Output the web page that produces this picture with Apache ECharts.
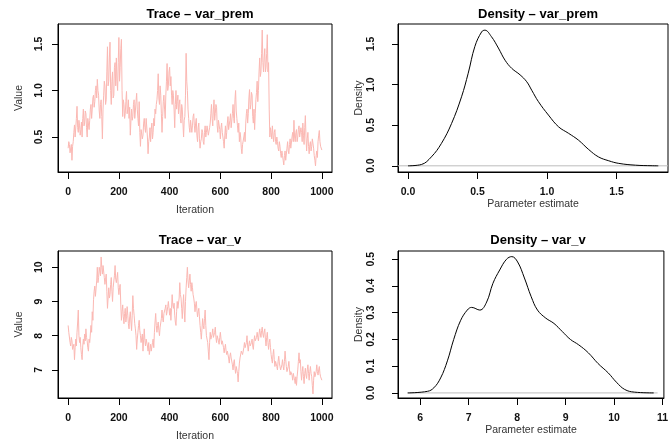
<!DOCTYPE html>
<html>
<head>
<meta charset="utf-8">
<script src="https://cdn.jsdelivr.net/npm/echarts@6/dist/echarts.min.js"></script>
<style>
  html, body { margin: 0; padding: 0; background: #fff; }
  #main { width: 671px; height: 448px; }
</style>
</head>
<body>
<div id="main"></div>
<script>
// trace values read at every 5 iterations (0..1000)
const traceStep = 5;
const varPremTrace = [
  0.38, 0.42, 0.35, 0.25, 0.45, 0.63, 0.48, 0.83, 0.55, 0.62,
  0.58, 0.50, 0.80, 0.65, 0.75, 0.50, 0.72, 0.68, 0.85, 0.80,
  0.95, 0.88, 1.05, 1.12, 0.95, 0.70, 0.90, 0.48, 0.95, 1.05,
  0.90, 1.47, 1.10, 1.52, 0.85, 1.20, 0.95, 1.30, 1.35, 1.00,
  1.57, 1.25, 1.55, 0.72, 0.85, 0.75, 0.99, 0.80, 0.70, 0.52,
  0.80, 0.72, 0.90, 0.78, 0.97, 0.70, 0.88, 0.40, 0.60, 0.52,
  0.70, 0.55, 0.68, 0.32, 0.50, 0.45, 0.65, 0.55, 0.62, 0.75,
  0.90, 1.18, 0.85, 0.95, 0.55, 0.88, 0.80, 0.95, 1.29, 1.05,
  1.25, 1.15, 0.85, 0.95, 0.60, 1.00, 0.88, 0.75, 0.90, 0.65,
  0.80, 0.50, 0.72, 1.40, 1.00, 0.70, 0.55, 0.70, 0.62, 0.75,
  0.55, 0.70, 0.45, 0.65, 0.38, 0.48, 0.55, 0.42, 0.62, 0.55,
  0.60, 0.50, 0.65, 0.85, 0.62, 0.90, 0.75, 0.82, 0.55, 0.70,
  0.48, 0.65, 0.50, 0.38, 0.62, 0.55, 0.72, 0.60, 0.75, 0.62,
  0.85, 0.65, 1.00, 0.70, 0.55, 0.45, 0.50, 0.32, 0.40, 0.55,
  0.65, 0.80, 0.75, 1.01, 0.85, 0.95, 0.65, 0.58, 0.90, 1.10,
  1.00, 1.35, 1.20, 1.65, 1.20, 1.45, 1.25, 1.60, 1.30, 0.50,
  0.55, 0.62, 0.45, 0.58, 0.42, 0.45, 0.35, 0.40, 0.28, 0.30,
  0.20, 0.35, 0.25, 0.45, 0.32, 0.48, 0.40, 0.55, 0.68, 0.45,
  0.58, 0.50, 0.62, 0.48, 0.55, 0.65, 0.42, 0.73, 0.35, 0.55,
  0.32, 0.45, 0.40, 0.50, 0.30, 0.19, 0.35, 0.45, 0.57, 0.40,
  0.36
];
// values in between (iterations 2.5, 7.5, ...)
const varPremMid = [
  0.45, 0.33, 0.42, 0.40, 0.55, 0.50, 0.70, 0.60, 0.68, 0.52,
  0.66, 0.70, 0.62, 0.78, 0.60, 0.70, 0.58, 0.80, 0.70, 0.92,
  0.82, 1.00, 0.92, 1.00, 0.78, 0.85, 0.72, 0.80, 1.10, 0.85,
  1.20, 1.05, 1.35, 1.00, 1.10, 0.92, 1.25, 1.05, 1.10, 1.30,
  1.10, 1.45, 1.00, 0.90, 0.70, 0.88, 0.75, 0.90, 0.82, 0.68,
  0.68, 0.85, 0.70, 0.88, 0.80, 0.62, 0.55, 0.58, 0.48, 0.65,
  0.60, 0.70, 0.50, 0.45, 0.60, 0.58, 0.48, 0.70, 0.80, 0.85,
  1.00, 0.92, 1.05, 0.75, 0.72, 0.95, 0.70, 1.10, 1.00, 1.20,
  1.05, 0.95, 1.00, 0.80, 0.85, 0.80, 0.95, 0.85, 0.70, 0.85,
  0.65, 0.68, 0.95, 1.10, 0.80, 0.60, 0.68, 0.55, 0.72, 0.62,
  0.65, 0.52, 0.60, 0.48, 0.45, 0.58, 0.45, 0.55, 0.50, 0.62,
  0.52, 0.60, 0.75, 0.70, 0.80, 0.68, 0.85, 0.62, 0.68, 0.58,
  0.60, 0.55, 0.45, 0.52, 0.48, 0.65, 0.58, 0.68, 0.60, 0.75,
  0.70, 0.90, 0.78, 0.62, 0.65, 0.55, 0.38, 0.42, 0.50, 0.45,
  0.75, 0.65, 0.92, 0.80, 0.98, 0.72, 0.80, 0.75, 0.98, 0.88,
  1.20, 1.15, 1.40, 1.30, 1.35, 1.20, 1.40, 1.20, 0.80, 0.60,
  0.48, 0.52, 0.55, 0.45, 0.50, 0.38, 0.45, 0.32, 0.35, 0.25,
  0.30, 0.25, 0.38, 0.35, 0.42, 0.38, 0.50, 0.45, 0.50, 0.55,
  0.45, 0.58, 0.50, 0.60, 0.45, 0.52, 0.60, 0.50, 0.48, 0.40,
  0.42, 0.35, 0.48, 0.38, 0.25, 0.30, 0.28, 0.52, 0.45, 0.42
];
const varVTrace = [
  8.30, 8.05, 7.70, 7.85, 7.55, 7.30, 7.90, 8.10, 8.75, 7.80,
  7.65, 7.30, 7.90, 8.05, 8.20, 7.85, 7.55, 7.80, 8.30, 8.70,
  9.05, 9.45, 9.10, 10.00, 9.70, 10.05, 10.30, 9.80, 10.10, 9.50,
  9.80, 8.80, 9.40, 9.20, 9.70, 9.00, 9.60, 10.05, 9.55, 9.85,
  9.20, 9.50, 8.45, 8.90, 8.35, 8.80, 8.55, 8.60, 8.20, 8.70,
  8.15, 9.17, 8.60, 8.20, 7.60, 8.10, 8.45, 8.00, 7.85, 7.55,
  8.20, 7.70, 7.95, 7.55, 7.45, 7.75, 7.60, 7.90, 8.10, 8.65,
  8.10, 8.40, 8.00, 8.30, 8.75, 8.40, 8.60, 8.90, 8.70, 9.00,
  8.60, 8.45, 9.20, 8.80, 8.60, 8.30, 9.00, 8.75, 9.55, 9.10,
  8.50, 9.20, 8.40, 9.40, 10.00, 9.40, 9.80, 9.30, 9.40, 9.10,
  8.70, 9.00, 8.55, 8.80, 8.30, 7.90, 8.50, 8.20, 8.75, 8.00,
  7.80, 7.30, 8.10, 7.85, 8.20, 7.90, 8.25, 7.80, 8.05, 7.75,
  8.10, 7.75, 7.90, 7.50, 7.75, 7.45, 7.60, 7.20, 7.50, 7.30,
  7.00, 7.30, 6.90, 7.15, 6.65, 7.20, 7.40, 7.60, 7.45, 7.80,
  7.60, 8.00, 7.55, 7.85, 7.65, 7.90, 7.60, 8.00, 7.80, 8.10,
  7.85, 8.20, 7.95, 8.25, 7.95, 8.20, 7.70, 8.10, 7.60, 7.90,
  7.45, 7.20, 7.60, 7.10, 7.30, 7.00, 7.40, 7.10, 6.95, 7.30,
  7.00, 7.55, 7.10, 6.90, 7.25, 6.85, 7.00, 6.70, 6.85, 6.60,
  6.55, 7.00, 7.50, 7.30, 6.70, 7.10, 6.60, 7.05, 6.75, 7.15,
  6.70, 7.10, 6.80, 6.30, 6.95, 6.75, 7.15, 6.85, 7.10, 6.80,
  6.70
];
const varVMid = [
  8.10, 7.80, 7.95, 7.60, 7.75, 7.65, 7.70, 8.40, 8.00, 7.95,
  7.45, 7.70, 7.75, 7.85, 7.95, 7.65, 7.90, 8.05, 8.10, 8.45,
  9.30, 9.15, 9.60, 9.55, 10.00, 9.75, 10.00, 10.05, 9.70, 9.65,
  9.30, 9.10, 9.10, 9.50, 9.30, 9.40, 9.75, 9.65, 9.70, 9.40,
  9.40, 8.90, 8.70, 8.55, 8.65, 8.40, 8.85, 8.35, 8.55, 8.40,
  8.60, 8.80, 8.35, 8.00, 7.90, 8.30, 8.15, 7.80, 8.05, 7.90,
  7.85, 7.90, 7.70, 7.80, 7.60, 7.55, 7.80, 7.65, 8.40, 8.30,
  8.30, 8.15, 8.25, 8.50, 8.50, 8.65, 8.80, 8.60, 8.85, 8.80,
  8.80, 8.80, 8.90, 8.95, 8.40, 8.70, 8.80, 9.10, 9.20, 8.80,
  8.90, 8.75, 9.00, 9.70, 9.60, 9.60, 9.50, 9.55, 9.20, 8.95,
  8.90, 8.75, 8.70, 8.55, 8.10, 8.20, 8.30, 8.50, 8.30, 7.95,
  7.55, 7.80, 7.90, 8.05, 7.95, 8.10, 7.95, 8.00, 7.85, 7.95,
  7.90, 7.85, 7.65, 7.65, 7.55, 7.55, 7.35, 7.40, 7.35, 7.15,
  7.20, 7.05, 7.10, 6.90, 6.95, 7.35, 7.55, 7.45, 7.65, 7.65,
  7.80, 7.70, 7.75, 7.70, 7.80, 7.70, 7.85, 7.85, 7.95, 7.95,
  8.05, 8.05, 8.15, 8.05, 8.10, 7.90, 7.95, 7.80, 7.80, 7.65,
  7.30, 7.45, 7.30, 7.25, 7.10, 7.25, 7.20, 7.00, 7.15, 7.10,
  7.25, 7.30, 6.95, 7.10, 7.00, 6.95, 6.85, 6.90, 6.70, 6.80,
  6.80, 7.25, 7.20, 6.95, 6.95, 6.80, 6.90, 6.85, 7.00, 6.90,
  6.95, 6.90, 6.55, 6.70, 6.80, 6.95, 6.95, 7.00, 6.90, 6.75
];

// density curves
const densPremX = [0.0, 0.096, 0.168, 0.24, 0.313, 0.385, 0.433, 0.481, 0.53, 0.553, 0.6, 0.65, 0.698, 0.746, 0.806, 0.854, 0.89, 0.938, 1.01, 1.083, 1.155, 1.227, 1.3, 1.37, 1.444, 1.516, 1.636, 1.757, 1.8];
const densPremY = [0.0, 0.016, 0.11, 0.275, 0.52, 0.85, 1.14, 1.47, 1.65, 1.67, 1.59, 1.45, 1.30, 1.20, 1.12, 1.035, 0.93, 0.79, 0.625, 0.48, 0.40, 0.315, 0.20, 0.11, 0.062, 0.03, 0.008, 0.001, 0.0];
const densVX = [5.74, 6.15, 6.28, 6.42, 6.56, 6.69, 6.83, 6.97, 7.06, 7.23, 7.37, 7.50, 7.64, 7.78, 7.89, 8.01, 8.15, 8.29, 8.42, 8.59, 8.76, 8.93, 9.10, 9.27, 9.47, 9.67, 9.88, 10.05, 10.22, 10.42, 10.82];
const densVY = [0.0, 0.006, 0.019, 0.056, 0.12, 0.20, 0.27, 0.31, 0.32, 0.31, 0.34, 0.41, 0.46, 0.50, 0.51, 0.49, 0.43, 0.36, 0.31, 0.28, 0.26, 0.23, 0.20, 0.18, 0.15, 0.11, 0.075, 0.04, 0.013, 0.003, 0.0];

// tick labels
const iterTicks = [0, 200, 400, 600, 800, 1000];
const premTraceTicks = [0.5, 1.0, 1.5];
const vTraceTicks = [7, 8, 9, 10];
const premDensXTicks = [0.0, 0.5, 1.0, 1.5];
const premDensYTicks = [0.0, 0.5, 1.0, 1.5];
const vDensXTicks = [6, 7, 8, 9, 10, 11];
const vDensYTicks = [0.0, 0.1, 0.2, 0.3, 0.4, 0.5];

const traceColor = '#fbb8b3';
const font = 'Liberation Sans, Arial, sans-serif';

const chart = echarts.init(document.getElementById('main'));

function pairs(xs, ys) { return xs.map((x, i) => [x, ys[i]]); }
function tracePairs(ys, mids) {
  const out = [];
  ys.forEach((y, i) => {
    out.push([i * traceStep, y]);
    if (i < mids.length) out.push([i * traceStep + traceStep / 2, mids[i]]);
  });
  return out;
}

function xAxis(gridIndex, min, max, ticks, fmt, name, nameGap) {
  return {
    type: 'value', gridIndex, min, max,
    name, nameLocation: 'middle', nameGap,
    nameTextStyle: { fontFamily: font, fontSize: 10.5, color: '#333' },
    axisLine: { show: true, onZero: false, lineStyle: { color: '#000', width: 1 } },
    axisTick: { show: true, length: 7, customValues: ticks, lineStyle: { color: '#000' } },
    axisLabel: { customValues: ticks, formatter: fmt, margin: 15, fontFamily: font, fontSize: 10.5, fontWeight: 'bold', color: '#111' },
    splitLine: { show: false }
  };
}
function yAxis(gridIndex, min, max, ticks, fmt, name, margin) {
  return {
    type: 'value', gridIndex, min, max,
    name, nameLocation: 'middle', nameGap: 33,
    nameTextStyle: { fontFamily: font, fontSize: 10.5, color: '#333' },
    axisLine: { show: true, onZero: false, lineStyle: { color: '#000', width: 1 } },
    axisTick: { show: true, length: 6, customValues: ticks, lineStyle: { color: '#000' } },
    axisLabel: { customValues: ticks, formatter: fmt, rotate: 90, margin, fontFamily: font, fontSize: 10.5, fontWeight: 'bold', color: '#111' },
    splitLine: { show: false }
  };
}
const f0 = v => String(Math.round(v));
const f1 = v => v.toFixed(1);

const titleStyle = { fontFamily: font, fontSize: 13, fontWeight: 'bold', color: '#000' };

const option = {
  animation: false,
  backgroundColor: '#fff',
  title: [
    { text: 'Trace – var_prem', left: 195, top: 3, textAlign: 'center', textStyle: titleStyle },
    { text: 'Density – var_prem', left: 533, top: 3, textAlign: 'center', textStyle: titleStyle },
    { text: 'Trace – var_v', left: 195, top: 229, textAlign: 'center', textStyle: titleStyle },
    { text: 'Density – var_v', left: 533, top: 229, textAlign: 'center', textStyle: titleStyle }
  ],
  grid: [
    { left: 58, top: 24, width: 274, height: 148, show: true, borderColor: '#000', borderWidth: 1 },
    { left: 398, top: 24, width: 270, height: 148, show: true, borderColor: '#000', borderWidth: 1 },
    { left: 58, top: 251, width: 274, height: 147, show: true, borderColor: '#000', borderWidth: 1 },
    { left: 398, top: 251, width: 270, height: 147, show: true, borderColor: '#000', borderWidth: 1 }
  ],
  xAxis: [
    xAxis(0, -40, 1040, iterTicks, f0, 'Iteration', 33),
    xAxis(1, -0.072, 1.87, premDensXTicks, f1, 'Parameter estimate', 22),
    xAxis(2, -40, 1040, iterTicks, f0, 'Iteration', 33),
    xAxis(3, 5.54, 11.03, vDensXTicks, f0, 'Parameter estimate', 22)
  ],
  yAxis: [
    yAxis(0, 0.124, 1.715, premTraceTicks, f1, 'Value', 13),
    yAxis(1, -0.076, 1.746, premDensYTicks, f1, 'Density', 21),
    yAxis(2, 6.18, 10.475, vTraceTicks, f0, 'Value', 13),
    yAxis(3, -0.019, 0.531, vDensYTicks, f1, 'Density', 21)
  ],
  series: [
    { type: 'line', xAxisIndex: 0, yAxisIndex: 0, data: tracePairs(varPremTrace, varPremMid), showSymbol: false, lineStyle: { color: traceColor, width: 1 } },
    { type: 'line', xAxisIndex: 1, yAxisIndex: 1, data: [[-0.072, 0], [1.87, 0]], showSymbol: false, lineStyle: { color: '#bdbdbd', width: 1 } },
    { type: 'line', xAxisIndex: 1, yAxisIndex: 1, data: pairs(densPremX, densPremY), smooth: 0.4, showSymbol: false, lineStyle: { color: '#000', width: 1 } },
    { type: 'line', xAxisIndex: 2, yAxisIndex: 2, data: tracePairs(varVTrace, varVMid), showSymbol: false, lineStyle: { color: traceColor, width: 1 } },
    { type: 'line', xAxisIndex: 3, yAxisIndex: 3, data: [[5.74, 0], [10.9, 0]], showSymbol: false, lineStyle: { color: '#bdbdbd', width: 1 } },
    { type: 'line', xAxisIndex: 3, yAxisIndex: 3, data: pairs(densVX, densVY), smooth: 0.4, showSymbol: false, lineStyle: { color: '#000', width: 1 } }
  ]
};

chart.setOption(option);
</script>
</body>
</html>
